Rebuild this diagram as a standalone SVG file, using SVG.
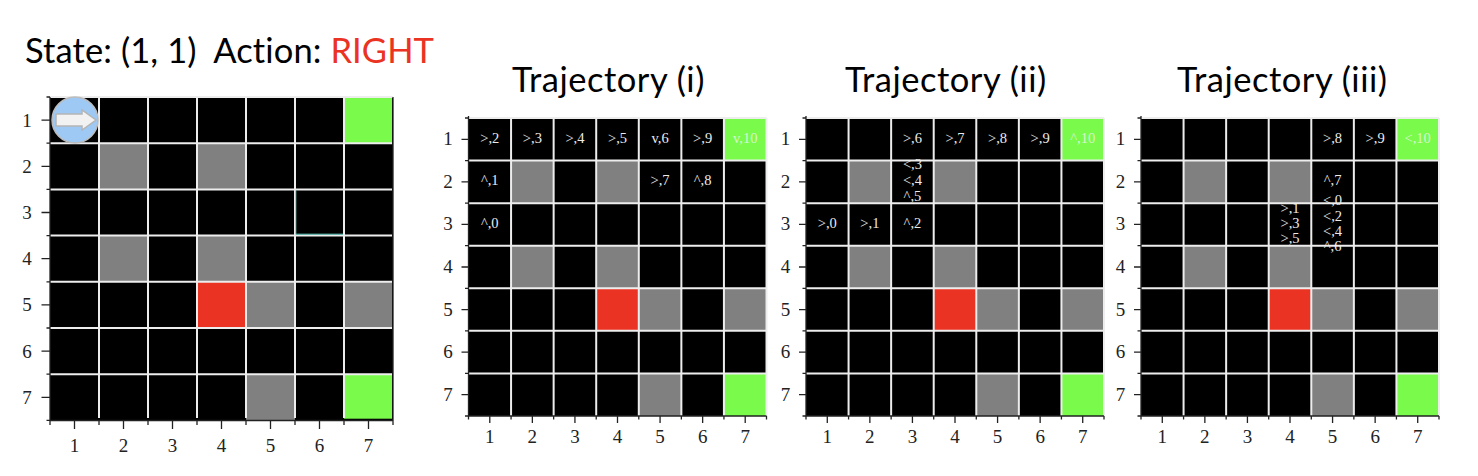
<svg xmlns="http://www.w3.org/2000/svg" xmlns:xlink="http://www.w3.org/1999/xlink" width="1478" height="476" viewBox="0 0 1478 476">
<style>
.title{font-family:Lato,"Open Sans",sans-serif;font-size:34.5px;fill:#000;letter-spacing:.5px}
.state{letter-spacing:.1px;white-space:pre}
.red{fill:#ea3323}
.tick{font-family:"Liberation Serif",serif;font-size:19px;fill:#222;text-anchor:middle}
.v{font-family:"Liberation Serif",serif;font-size:14.5px;fill:#ececec;text-anchor:middle}
.g{fill:#d8f5cc}
.grid{stroke:#ededed;stroke-width:2;fill:none}
.ax{stroke:#222;stroke-width:1.3;fill:none}
.gray{fill:#808080}.rd{fill:#ea3323}.gr{fill:#7afb4c}
</style>
<defs>
<g id="tcells">
<rect x="0" y="0" width="298" height="298" fill="#000"/>
<g class="gray">
<rect x="42.57" y="42.57" width="42.57" height="42.57"/>
<rect x="127.71" y="42.57" width="42.57" height="42.57"/>
<rect x="42.57" y="127.71" width="42.57" height="42.57"/>
<rect x="127.71" y="127.71" width="42.57" height="42.57"/>
<rect x="170.29" y="170.29" width="42.57" height="42.57"/>
<rect x="255.43" y="170.29" width="42.57" height="42.57"/>
<rect x="170.29" y="255.43" width="42.57" height="42.57"/>
</g>
<rect class="rd" x="127.71" y="170.29" width="42.57" height="42.57"/>
<rect class="gr" x="255.43" y="0" width="42.57" height="42.57"/>
<rect class="gr" x="255.43" y="255.43" width="42.57" height="42.57"/>
</g>
<path id="tlines" class="grid" d="M42.57 0V298M85.14 0V298M127.71 0V298M170.29 0V298M212.86 0V298M255.43 0V298M0 42.57H298M0 85.14H298M0 127.71H298M0 170.29H298M0 212.86H298M0 255.43H298M0 0H298M298 0V298"/>
<path id="tticks" class="ax" d="M0 -2V298H298M-7 21.29H0M-7 63.86H0M-7 106.43H0M-7 149H0M-7 191.57H0M-7 234.14H0M-7 276.71H0M-3.5 0H0M-3.5 42.57H0M-3.5 85.14H0M-3.5 127.71H0M-3.5 170.29H0M-3.5 212.86H0M-3.5 255.43H0M-3.5 298H0M21.29 298V305M63.86 298V305M106.43 298V305M149 298V305M191.57 298V305M234.14 298V305M276.71 298V305M0 298V301.5M42.57 298V301.5M85.14 298V301.5M127.71 298V301.5M170.29 298V301.5M212.86 298V301.5M255.43 298V301.5M298 298V301.5"/>
</defs>

<text class="title state" x="25" y="62.5">State: (1, 1)  Action: <tspan class="red">RIGHT</tspan></text>
<text class="title" x="512" y="92">Trajectory (i)</text>
<text class="title" x="845" y="92">Trajectory (ii)</text>
<text class="title" x="1177" y="92">Trajectory (iii)</text>

<g id="main-grid" transform="translate(50,97)">
<rect x="0" y="0" width="343" height="323.5" fill="#000"/>
<g class="gray">
<rect x="49" y="46.2" width="49" height="46.2"/>
<rect x="147" y="46.2" width="49" height="46.2"/>
<rect x="49" y="138.6" width="49" height="46.2"/>
<rect x="147" y="138.6" width="49" height="46.2"/>
<rect x="196" y="184.8" width="49" height="46.2"/>
<rect x="294" y="184.8" width="48" height="46.2"/>
<rect x="196" y="277.2" width="49" height="46.2"/>
</g>
<rect class="rd" x="147" y="184.8" width="49" height="46.2"/>
<rect class="gr" x="294" y="0" width="48" height="46.2"/>
<rect class="gr" x="294" y="277.2" width="48" height="44.5"/>
<path class="grid" d="M49 0V321M98 0V321M147 0V321M196 0V321M245 0V321M294 0V321M0 46.2H342M0 92.4H342M0 138.6H342M0 184.8H342M0 231H342M0 277.2H342M0 0H343"/>
<path d="M245.8 93.5V137.2H293" fill="none" stroke="#62d2c4" stroke-width="1"/>
<path class="ax" d="M0 0V323.5H343V0M-8.5 23.1H0M-8.5 69.3H0M-8.5 115.5H0M-8.5 161.7H0M-8.5 207.9H0M-8.5 254.1H0M-8.5 300.3H0M-3.5 0H0M-3.5 46.2H0M-3.5 92.4H0M-3.5 138.6H0M-3.5 184.8H0M-3.5 231H0M-3.5 277.2H0M-3.5 323.4H0M24.5 323.5V332M73.5 323.5V332M122.5 323.5V332M171.5 323.5V332M220.5 323.5V332M269.5 323.5V332M318.5 323.5V332M0 323.5V328M49 323.5V328M98 323.5V328M147 323.5V328M196 323.5V328M245 323.5V328M294 323.5V328M343 323.5V328"/>
<text class="tick" x="-23" y="30">1</text><text class="tick" x="-23" y="76">2</text><text class="tick" x="-23" y="122">3</text><text class="tick" x="-23" y="168">4</text><text class="tick" x="-23" y="214">5</text><text class="tick" x="-23" y="261">6</text><text class="tick" x="-23" y="307">7</text>
<text class="tick" x="24.5" y="354.5">1</text><text class="tick" x="73.5" y="354.5">2</text><text class="tick" x="122.5" y="354.5">3</text><text class="tick" x="171.5" y="354.5">4</text><text class="tick" x="220.5" y="354.5">5</text><text class="tick" x="269.5" y="354.5">6</text><text class="tick" x="318.5" y="354.5">7</text>
</g>

<g id="agent">
<circle cx="75" cy="120" r="23" fill="#9fc9f5" stroke="#bcbcbc" stroke-width="1.5"/>
<path d="M56 114H82V110L96 120L82 130V126H56Z" fill="#f2f2f2" stroke="#b5b5b5" stroke-width="1.5"/>
</g>

<g id="trajectory-i" transform="translate(468.5,118)">
<use href="#tcells"/>
<text class="v" x="21.29" y="24.7">&gt;,2</text><text class="v" x="63.86" y="24.7">&gt;,3</text><text class="v" x="106.43" y="24.7">&gt;,4</text><text class="v" x="149" y="24.7">&gt;,5</text><text class="v" x="191.57" y="24.7">v,6</text><text class="v" x="234.14" y="24.7">&gt;,9</text><text class="v g" x="276.71" y="24.7">v,10</text>
<text class="v" x="21.29" y="67">^,1</text><text class="v" x="191.57" y="67">&gt;,7</text><text class="v" x="234.14" y="67">^,8</text>
<text class="v" x="21.29" y="109.6">^,0</text>
<use href="#tlines"/><use href="#tticks"/>
<text class="tick" x="-20.5" y="27">1</text><text class="tick" x="-20.5" y="69.5">2</text><text class="tick" x="-20.5" y="112">3</text><text class="tick" x="-20.5" y="155">4</text><text class="tick" x="-20.5" y="197.5">5</text><text class="tick" x="-20.5" y="240">6</text><text class="tick" x="-20.5" y="282.5">7</text>
<text class="tick" x="21.29" y="325">1</text><text class="tick" x="63.86" y="325">2</text><text class="tick" x="106.43" y="325">3</text><text class="tick" x="149" y="325">4</text><text class="tick" x="191.57" y="325">5</text><text class="tick" x="234.14" y="325">6</text><text class="tick" x="276.71" y="325">7</text>
</g>

<g id="trajectory-ii" transform="translate(806,118)">
<use href="#tcells"/>
<text class="v" x="106.43" y="24.7">&gt;,6</text><text class="v" x="149" y="24.7">&gt;,7</text><text class="v" x="191.57" y="24.7">&gt;,8</text><text class="v" x="234.14" y="24.7">&gt;,9</text><text class="v g" x="276.71" y="24.7">^,10</text>
<text class="v" x="106.43" y="51">&lt;,3</text><text class="v" x="106.43" y="67">&lt;,4</text><text class="v" x="106.43" y="82.7">^,5</text>
<text class="v" x="21.29" y="109.6">&gt;,0</text><text class="v" x="63.86" y="109.6">&gt;,1</text><text class="v" x="106.43" y="109.6">^,2</text>
<use href="#tlines"/><use href="#tticks"/>
<text class="tick" x="-20.5" y="27">1</text><text class="tick" x="-20.5" y="69.5">2</text><text class="tick" x="-20.5" y="112">3</text><text class="tick" x="-20.5" y="155">4</text><text class="tick" x="-20.5" y="197.5">5</text><text class="tick" x="-20.5" y="240">6</text><text class="tick" x="-20.5" y="282.5">7</text>
<text class="tick" x="21.29" y="325">1</text><text class="tick" x="63.86" y="325">2</text><text class="tick" x="106.43" y="325">3</text><text class="tick" x="149" y="325">4</text><text class="tick" x="191.57" y="325">5</text><text class="tick" x="234.14" y="325">6</text><text class="tick" x="276.71" y="325">7</text>
</g>

<g id="trajectory-iii" transform="translate(1141,118)">
<use href="#tcells"/>
<text class="v" x="191.57" y="24.7">&gt;,8</text><text class="v" x="234.14" y="24.7">&gt;,9</text><text class="v g" x="276.71" y="24.7">&lt;,10</text>
<text class="v" x="191.57" y="67">^,7</text>
<text class="v" x="149" y="95">&gt;,1</text><text class="v" x="149" y="109.7">&gt;,3</text><text class="v" x="149" y="125">&gt;,5</text>
<text class="v" x="191.57" y="87">&lt;,0</text><text class="v" x="191.57" y="102.7">&lt;,2</text><text class="v" x="191.57" y="118">&lt;,4</text><text class="v" x="191.57" y="133">^,6</text>
<use href="#tlines"/><use href="#tticks"/>
<text class="tick" x="-20.5" y="27">1</text><text class="tick" x="-20.5" y="69.5">2</text><text class="tick" x="-20.5" y="112">3</text><text class="tick" x="-20.5" y="155">4</text><text class="tick" x="-20.5" y="197.5">5</text><text class="tick" x="-20.5" y="240">6</text><text class="tick" x="-20.5" y="282.5">7</text>
<text class="tick" x="21.29" y="325">1</text><text class="tick" x="63.86" y="325">2</text><text class="tick" x="106.43" y="325">3</text><text class="tick" x="149" y="325">4</text><text class="tick" x="191.57" y="325">5</text><text class="tick" x="234.14" y="325">6</text><text class="tick" x="276.71" y="325">7</text>
</g>
</svg>
